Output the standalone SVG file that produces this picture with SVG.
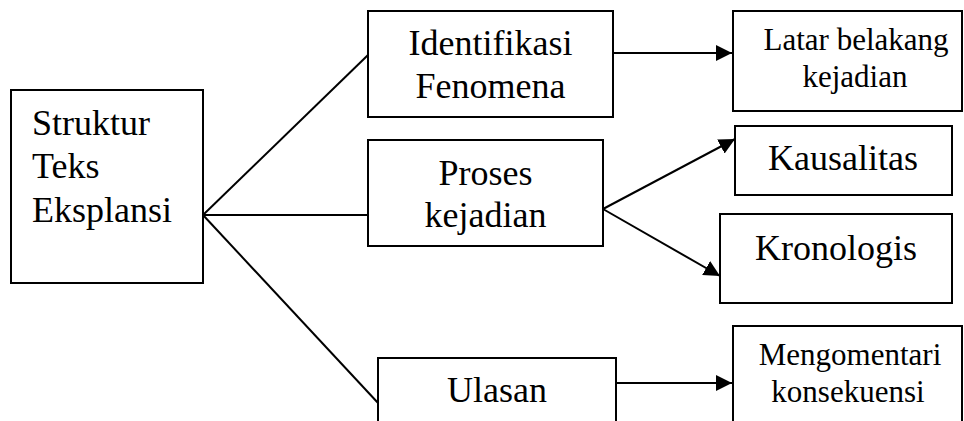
<svg xmlns="http://www.w3.org/2000/svg" width="964" height="421" viewBox="0 0 964 421">
<style>
  .box { fill: #fff; stroke: #000; stroke-width: 2; }
  .t { font-family: "Liberation Serif", "Times New Roman", serif; fill: #000; }
  .big { font-size: 36px; }
  .small { font-size: 31px; }
  .c { text-anchor: middle; }
  .ln { stroke: #000; stroke-width: 2; fill: none; }
</style>
<defs>
  <marker id="arr" viewBox="0 0 16 16" refX="16" refY="8" markerWidth="16" markerHeight="16" markerUnits="userSpaceOnUse" orient="auto">
    <path d="M0,0 L16,8 L0,16 z" fill="#000"/>
  </marker>
</defs>
<rect width="964" height="421" fill="#fff"/>
<g id="connectors">
  <line class="ln" x1="203" y1="215" x2="368" y2="55"/>
  <line class="ln" x1="203" y1="215" x2="368" y2="215"/>
  <line class="ln" x1="203" y1="215" x2="379" y2="404"/>
  <line class="ln" x1="613" y1="53" x2="732" y2="53" marker-end="url(#arr)"/>
  <line class="ln" x1="603" y1="209" x2="735" y2="139" marker-end="url(#arr)"/>
  <line class="ln" x1="603" y1="209" x2="720" y2="276" marker-end="url(#arr)"/>
  <line class="ln" x1="616" y1="383" x2="732" y2="383" marker-end="url(#arr)"/>
</g>
<g id="struktur">
  <rect class="box" x="11" y="90" width="192" height="193"/>
  <text class="t big" x="32" y="135">Struktur</text>
  <text class="t big" x="32" y="178">Teks</text>
  <text class="t big" x="32" y="222">Eksplansi</text>
</g>
<g id="identifikasi">
  <rect class="box" x="368" y="11" width="245" height="106"/>
  <text class="t big c" x="490.5" y="55">Identifikasi</text>
  <text class="t big c" x="490.5" y="98">Fenomena</text>
</g>
<g id="proses">
  <rect class="box" x="368" y="140" width="235" height="106"/>
  <text class="t big c" x="485.5" y="185">Proses</text>
  <text class="t big c" x="485.5" y="227">kejadian</text>
</g>
<g id="ulasan">
  <rect class="box" x="378" y="358" width="238" height="80"/>
  <text class="t big c" x="497" y="402">Ulasan</text>
</g>
<g id="latar">
  <rect class="box" x="733" y="11" width="229" height="100"/>
  <text class="t small c" x="856" y="50">Latar belakang</text>
  <text class="t small c" x="855" y="87">kejadian</text>
</g>
<g id="kausalitas">
  <rect class="box" x="735" y="126" width="217" height="69"/>
  <text class="t big c" x="843" y="170">Kausalitas</text>
</g>
<g id="kronologis">
  <rect class="box" x="720" y="214" width="232" height="89"/>
  <text class="t big c" x="836" y="260">Kronologis</text>
</g>
<g id="mengomentari">
  <rect class="box" x="733" y="326" width="229" height="110"/>
  <text class="t small c" x="850" y="365">Mengomentari</text>
  <text class="t small c" x="848" y="402">konsekuensi</text>
</g>
</svg>
